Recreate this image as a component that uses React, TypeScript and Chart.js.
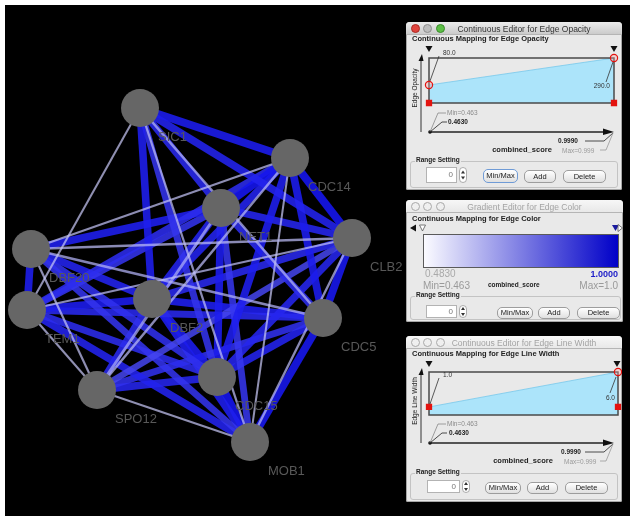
import React, { useEffect, useRef } from "react";
import { Chart, registerables } from "chart.js";
Chart.register(...registerables);

// ---------------- data ----------------
const nodeNames = ["SIC1", "CDC14", "NET1", "CLB2", "DBF20", "TEM1", "DBF2", "CDC5", "SPO12", "CDC15", "MOB1"];
const nodeX = [140, 290, 221, 352, 31, 27, 152, 323, 97, 217, 250];
const nodeY = [108, 158, 208, 238, 249, 310, 299, 318, 390, 377, 442];

const edgeSource = [
  "SIC1", "SIC1", "SIC1", "DBF20", "DBF20", "CDC14", "CDC14", "CLB2", "CLB2", "TEM1", "DBF20", "SPO12", "DBF20", "NET1",
  "SIC1", "SIC1", "SIC1", "SIC1", "SIC1",
  "CDC14", "CDC14", "CDC14", "CDC14", "CDC14", "CDC14",
  "NET1", "NET1", "NET1", "NET1", "NET1", "NET1", "NET1",
  "CLB2", "CLB2", "CLB2", "CLB2",
  "DBF20", "DBF20", "DBF20", "DBF20",
  "TEM1", "TEM1", "TEM1", "TEM1",
  "DBF2", "DBF2", "DBF2", "DBF2",
  "CDC5", "CDC5", "CDC5",
  "SPO12", "CDC15",
];
const edgeTarget = [
  "TEM1", "MOB1", "CDC5", "CLB2", "CDC14", "MOB1", "SPO12", "TEM1", "MOB1", "SPO12", "SPO12", "MOB1", "CDC5", "SPO12",
  "CDC14", "CLB2", "NET1", "DBF2", "CDC15",
  "NET1", "CLB2", "TEM1", "DBF2", "CDC5", "CDC15",
  "CLB2", "DBF20", "TEM1", "DBF2", "CDC5", "CDC15", "MOB1",
  "DBF2", "CDC5", "SPO12", "CDC15",
  "TEM1", "DBF2", "CDC15", "MOB1",
  "DBF2", "CDC5", "CDC15", "MOB1",
  "CDC5", "SPO12", "CDC15", "MOB1",
  "SPO12", "CDC15", "MOB1",
  "CDC15", "MOB1",
];
const edgeScore = [
  0.47, 0.49, 0.52, 0.5, 0.48, 0.463, 0.51, 0.49, 0.5, 0.47, 0.48, 0.47, 0.53, 0.55,
  0.97, 0.95, 0.93, 0.96, 0.9,
  0.99, 0.99, 0.92, 0.95, 0.97, 0.96,
  0.94, 0.96, 0.9, 0.95, 0.92, 0.97, 0.89,
  0.93, 0.98, 0.85, 0.94,
  0.96, 0.95, 0.91, 0.9,
  0.97, 0.93, 0.92, 0.95,
  0.96, 0.93, 0.97, 0.96,
  0.91, 0.95, 0.98,
  0.94, 0.99,
];

const scoreMin = 0.463;
const scoreMax = 0.999;
const opacityValues = [80, 290];
const widthValues = [1, 6];

// ---------------- helpers ----------------
const F = '"Liberation Sans", "DejaVu Sans", Arial, sans-serif';

function Txt(props: { x: number; y: number; s?: number; b?: boolean; c?: string; a?: "l" | "c" | "r"; rot?: boolean; children: any }) {
  const { x, y, s = 8, b = false, c = "#222", a = "l", rot = false } = props;
  const tx = a === "c" || rot ? "-50%" : a === "r" ? "-100%" : "0";
  return (
    <span
      style={{
        position: "absolute",
        left: x,
        top: y,
        fontSize: s,
        fontWeight: b ? 700 : 400,
        color: c,
        fontFamily: F,
        lineHeight: 1,
        whiteSpace: "nowrap",
        transform: `translate(${tx},-50%)` + (rot ? " rotate(-90deg)" : ""),
      }}
    >
      {props.children}
    </span>
  );
}

function Btn({ x, y, w, h, label, active }: { x: number; y: number; w: number; h: number; label: string; active?: boolean }) {
  return (
    <div
      style={{
        position: "absolute",
        left: x,
        top: y,
        width: w,
        height: h,
        boxSizing: "border-box",
        borderRadius: 5,
        border: active ? "1.5px solid #6f9bd6" : "1px solid #9d9d9d",
        background: "linear-gradient(#ffffff,#e0e0e0)",
        fontSize: 7.5,
        fontFamily: F,
        color: "#222",
        display: "flex",
        alignItems: "center",
        justifyContent: "center",
        lineHeight: 1,
      }}
    >
      {label}
    </div>
  );
}

function RangeBox({ x, y, w, h, ix, iy, iw, ih }: { x: number; y: number; w: number; h: number; ix: number; iy: number; iw: number; ih: number }) {
  return (
    <>
      <div style={{ position: "absolute", left: x, top: y, width: w, height: h, boxSizing: "border-box", border: "1px solid #c3c3c3", borderRadius: 3 }} />
      <span style={{ position: "absolute", left: x + 5, top: y - 4, fontSize: 6.5, fontWeight: 700, fontFamily: F, color: "#222", background: "#e9e9e9", padding: "0 1px", lineHeight: 1 }}>
        Range Setting
      </span>
      <div style={{ position: "absolute", left: ix, top: iy, width: iw, height: ih, boxSizing: "border-box", background: "#fff", border: "1px solid #b3b3b3", fontSize: 8, color: "#777", fontFamily: F, textAlign: "right", paddingRight: 3, lineHeight: `${ih - 2}px` }}>0</div>
      <svg style={{ position: "absolute", left: ix + iw + 2, top: iy }} width={8} height={ih}>
        <rect x={0.5} y={0.5} width={7} height={ih - 1} rx={3.5} fill="#fff" stroke="#999" strokeWidth={0.8} />
        <polygon points={`2,${ih / 2 - 1.5} 6,${ih / 2 - 1.5} 4,${ih / 2 - 4.5}`} fill="#333" />
        <polygon points={`2,${ih / 2 + 1.5} 6,${ih / 2 + 1.5} 4,${ih / 2 + 4.5}`} fill="#333" />
      </svg>
    </>
  );
}

function Panel({ x, y, w, h, title, active, children }: { x: number; y: number; w: number; h: number; title: string; active?: boolean; children: any }) {
  const lightColors = active ? ["#e0443d", "#bdbdbd", "#5cbf45"] : ["#efefef", "#efefef", "#efefef"];
  const lightBorders = active ? ["#a82a25", "#8e8e8e", "#3a8a2c"] : ["#a9a9a9", "#a9a9a9", "#a9a9a9"];
  return (
    <div style={{ position: "absolute", left: x, top: y, width: w, height: h, background: "#e9e9e9", borderRadius: "4px 4px 2px 2px", overflow: "hidden", fontFamily: F, boxShadow: "inset 0 0 0 1px #a6a6a6" }}>
      <div style={{ position: "absolute", left: 0, top: 0, width: w, height: 12, background: active ? "linear-gradient(#ececec,#cbcbcb)" : "linear-gradient(#f7f7f7,#e8e8e8)", borderBottom: "1px solid #b5b5b5" }} />
      {[9, 21, 34].map((cx, i) => (
        <div key={i} style={{ position: "absolute", left: cx - 4.5, top: 1.5, width: 9, height: 9, boxSizing: "border-box", borderRadius: "50%", background: lightColors[i], border: `1px solid ${lightBorders[i]}` }} />
      ))}
      <Txt x={w / 2 + 10} y={6.5} s={8.5} c={active ? "#333" : "#a3a3a3"} a="c">{title}</Txt>
      {children}
    </div>
  );
}

function MappingChart({ x, y, w, h, yMin, yMax, yVals, markers }: { x: number; y: number; w: number; h: number; yMin: number; yMax: number; yVals: number[]; markers: { x: number; y: number; st: string }[] }) {
  const ref = useRef<HTMLCanvasElement>(null);
  const pad = 6;
  useEffect(() => {
    const chart = new Chart(ref.current as HTMLCanvasElement, {
      type: "scatter",
      data: {
        datasets: [
          {
            data: markers.map((m) => ({ x: m.x, y: m.y })),
            pointStyle: markers.map((m) => m.st) as any,
            pointRadius: 3.6,
            backgroundColor: markers.map((m) => (m.st === "rect" ? "#e3130f" : "rgba(255,170,170,0.35)")),
            borderColor: "#e3130f",
            borderWidth: 1.2,
            clip: false as any,
          },
          {
            data: [
              { x: scoreMin, y: yVals[0] },
              { x: scoreMax, y: yVals[1] },
            ],
            showLine: true,
            fill: "start",
            backgroundColor: "rgb(172,228,250)",
            borderColor: "rgba(120,200,235,0.8)",
            borderWidth: 1,
            pointRadius: 0,
          },
        ],
      },
      options: {
        responsive: false,
        animation: false,
        events: [],
        layout: { padding: pad, autoPadding: false },
        plugins: { legend: { display: false }, tooltip: { enabled: false } },
        scales: {
          x: { type: "linear", min: scoreMin, max: scoreMax, display: false },
          y: { type: "linear", min: yMin, max: yMax, display: false },
        },
      } as any,
      plugins: [
        {
          id: "frame",
          afterDatasetDraw(c: any, args: any) {
            if (args.index !== 1) return;
            const { ctx, chartArea: a } = c;
            ctx.save();
            ctx.strokeStyle = "#4a4a4a";
            ctx.lineWidth = 1.5;
            ctx.strokeRect(a.left, a.top, a.right - a.left, a.bottom - a.top);
            ctx.restore();
          },
        },
      ],
    });
    return () => chart.destroy();
  }, []);
  return <canvas ref={ref} width={w + 2 * pad} height={h + 2 * pad} style={{ position: "absolute", left: x - pad, top: y - pad, width: w + 2 * pad, height: h + 2 * pad }} />;
}

function Tri({ x, y, fill = "#111" }: { x: number; y: number; fill?: string }) {
  return <polygon points={`${x - 3.5},${y - 3} ${x + 3.5},${y - 3} ${x},${y + 3}`} fill={fill} />;
}

// axes decorations shared by the two continuous editors
function Axes({ w, h, xAxisY, yTop, minLY, valLY, rightLabY }: { w: number; h: number; xAxisY: number; yTop: number; minLY: number; valLY: number; rightLabY: number }) {
  return (
    <svg style={{ position: "absolute", left: 0, top: 0 }} width={w} height={h}>
      <line x1={15} y1={yTop + 3} x2={15} y2={xAxisY} stroke="#333" strokeWidth={1} />
      <polygon points={`${12.5},${yTop + 6} ${17.5},${yTop + 6} ${16},${yTop - 1}`} fill="#111" />
      <line x1={24} y1={xAxisY} x2={w - 14} y2={xAxisY} stroke="#222" strokeWidth={1.6} />
      <polygon points={`${w - 19},${xAxisY - 3.5} ${w - 8},${xAxisY} ${w - 19},${xAxisY + 3}`} fill="#111" />
      <circle cx={24} cy={xAxisY} r={1.8} fill="#111" />
      <polyline points={`24,${xAxisY} 32,${minLY} 40,${minLY}`} fill="none" stroke="#888" strokeWidth={0.8} />
      <polyline points={`24,${xAxisY} 36,${valLY} 41,${valLY}`} fill="none" stroke="#222" strokeWidth={0.8} />
      <polyline points={`${w - 9},${xAxisY + 1} ${w - 18},${rightLabY - 9} ${w - 37},${rightLabY - 9}`} fill="none" stroke="#222" strokeWidth={0.8} />
      <polyline points={`${w - 9},${xAxisY + 1} ${w - 16},${rightLabY} ${w - 22},${rightLabY}`} fill="none" stroke="#999" strokeWidth={0.8} />
    </svg>
  );
}

// ---------------- network chart ----------------
function NetworkChart() {
  const ref = useRef<HTMLCanvasElement>(null);
  useEffect(() => {
    const idx = (n: string) => nodeNames.indexOf(n);
    const edgeSets = edgeSource.map((s, i) => {
      const a = idx(s);
      const b = idx(edgeTarget[i]);
      const t = Math.max(0, Math.min(1, (edgeScore[i] - scoreMin) / (scoreMax - scoreMin)));
      const r = Math.round(200 - 182 * t);
      const bl = Math.round(245 - 8 * t);
      const al = 0.72 + 0.18 * t;
      return {
        data: [
          { x: nodeX[a], y: nodeY[a] },
          { x: nodeX[b], y: nodeY[b] },
        ],
        showLine: true,
        borderColor: `rgba(${r},${r},${bl},${al})`,
        borderWidth: 2 + 6 * t,
        borderCapStyle: "butt",
        pointRadius: 0,
        order: t < 0.5 ? 1 : 2,
      };
    });
    const bg = {
      id: "bg",
      beforeDraw(c: any) {
        const ctx = c.ctx;
        ctx.save();
        ctx.fillStyle = "#ffffff";
        ctx.fillRect(0, 0, c.width, c.height);
        ctx.fillStyle = "#000000";
        ctx.fillRect(5, 5, 625, 511);
        ctx.restore();
      },
    };
    const labels = {
      id: "labels",
      afterDatasetsDraw(c: any) {
        const ctx = c.ctx;
        const xs = c.scales.x;
        const ys = c.scales.y;
        ctx.save();
        ctx.font = '13px "Liberation Sans", Arial, sans-serif';
        ctx.fillStyle = "rgb(88,88,88)";
        ctx.textBaseline = "middle";
        ctx.textAlign = "left";
        nodeNames.forEach((n, i) => {
          ctx.fillText(n, xs.getPixelForValue(nodeX[i]) + 18, ys.getPixelForValue(nodeY[i]) + 29);
        });
        ctx.restore();
      },
    };
    const chart = new Chart(ref.current as HTMLCanvasElement, {
      type: "scatter",
      data: {
        datasets: [
          {
            data: nodeNames.map((_, i) => ({ x: nodeX[i], y: nodeY[i] })),
            pointRadius: 19,
            pointHoverRadius: 19,
            backgroundColor: "rgb(102,102,102)",
            borderWidth: 0,
            order: 0,
          },
          ...(edgeSets as any[]),
        ],
      },
      options: {
        responsive: false,
        animation: false,
        events: [],
        devicePixelRatio: 1,
        layout: { padding: 0, autoPadding: false },
        plugins: { legend: { display: false }, tooltip: { enabled: false } },
        scales: {
          x: { type: "linear", min: 0, max: 634, display: false },
          y: { type: "linear", min: 0, max: 520, reverse: true, display: false },
        },
      } as any,
      plugins: [bg, labels],
    });
    return () => chart.destroy();
  }, []);
  return <canvas ref={ref} width={634} height={520} style={{ position: "absolute", left: 0, top: 0, width: 634, height: 520 }} />;
}

export default function App() {
  return (
    <div style={{ position: "absolute", left: 0, top: 0, width: 634, height: 520, overflow: "hidden", background: "#fff" }}>
      <NetworkChart />

      {/* Edge Opacity editor */}
      <Panel x={406} y={22} w={216} h={168} title="Continuous Editor for Edge Opacity" active>
        <Txt x={6} y={17} s={7.5} b>Continuous Mapping for Edge Opacity</Txt>
        <MappingChart x={23} y={36} w={185} h={45} yMin={-60} yMax={290} yVals={opacityValues}
          markers={[{ x: scoreMin, y: 80, st: "circle" }, { x: scoreMax, y: 290, st: "circle" }, { x: scoreMin, y: -60, st: "rect" }, { x: scoreMax, y: -60, st: "rect" }]} />
        <svg style={{ position: "absolute", left: 0, top: 0 }} width={216} height={168}>
          <Tri x={23} y={27} />
          <Tri x={208} y={27} />
          <line x1={24} y1={59} x2={33} y2={34} stroke="#333" strokeWidth={0.8} />
          <line x1={207} y1={40} x2={200} y2={60} stroke="#333" strokeWidth={0.8} />
        </svg>
        <Axes w={216} h={168} xAxisY={110} yTop={33} minLY={91} valLY={100} rightLabY={128} />
        <Txt x={37} y={31} s={6.5} c="#333">80.0</Txt>
        <Txt x={204} y={64} s={6.5} c="#333" a="r">290.0</Txt>
        <Txt x={9} y={66} s={6.5} c="#222" rot>Edge Opacity</Txt>
        <Txt x={41} y={91} s={6.5} c="#8a8a8a">Min=0.463</Txt>
        <Txt x={42} y={100} s={6.5} b>0.4630</Txt>
        <Txt x={152} y={119} s={6.5} b>0.9990</Txt>
        <Txt x={116} y={128} s={7.5} b a="c">combined_score</Txt>
        <Txt x={156} y={129} s={6.5} c="#9a9a9a">Max=0.999</Txt>
        <RangeBox x={4} y={139} w={208} h={27} ix={20} iy={145} iw={31} ih={16} />
        <Btn x={77} y={147} w={35} h={14} label="Min/Max" active />
        <Btn x={118} y={148} w={32} h={13} label="Add" />
        <Btn x={157} y={148} w={43} h={13} label="Delete" />
      </Panel>

      {/* Edge Color editor */}
      <Panel x={406} y={200} w={217} h={122} title="Gradient Editor for Edge Color">
        <Txt x={6} y={19} s={7.5} b>Continuous Mapping for Edge Color</Txt>
        <svg style={{ position: "absolute", left: 0, top: 0 }} width={217} height={122}>
          <polygon points="4,28 10,24.5 10,31.5" fill="#111" />
          <polygon points="13.5,25 19.5,25 16.5,31" fill="#fff" stroke="#555" strokeWidth={0.8} />
          <polygon points="206,25 213,25 209.5,31" fill="#1b1b9e" />
          <polygon points="212,24.5 216.5,28 212,31.5" fill="#fff" stroke="#555" strokeWidth={0.8} />
        </svg>
        <div style={{ position: "absolute", left: 17, top: 34, width: 196, height: 34, boxSizing: "border-box", border: "1px solid #5a5a5a", background: "linear-gradient(to right, #fbfbff, #0000c8)" }} />
        <Txt x={19} y={74} s={10} c="#a9a9a9">0.4830</Txt>
        <Txt x={212} y={74} s={9} b c="#1c1cc8" a="r">1.0000</Txt>
        <Txt x={17} y={86} s={10} c="#9a9a9a">Min=0.463</Txt>
        <Txt x={82} y={85} s={6.5} b>combined_score</Txt>
        <Txt x={212} y={86} s={10} c="#9a9a9a" a="r">Max=1.0</Txt>
        <RangeBox x={4} y={96} w={211} h={24} ix={20} iy={105} iw={31} ih={13} />
        <Btn x={91} y={107} w={36} h={12} label="Min/Max" />
        <Btn x={132} y={107} w={32} h={12} label="Add" />
        <Btn x={171} y={107} w={43} h={12} label="Delete" />
      </Panel>

      {/* Edge Line Width editor */}
      <Panel x={406} y={336} w={216} h={166} title="Continuous Editor for Edge Line Width">
        <Txt x={6} y={18} s={7.5} b>Continuous Mapping for Edge Line Width</Txt>
        <MappingChart x={23} y={36} w={189} h={43} yMin={-0.15} yMax={6} yVals={widthValues}
          markers={[{ x: scoreMin, y: 1, st: "rect" }, { x: scoreMax, y: 6, st: "circle" }, { x: scoreMax, y: 1, st: "rect" }]} />
        <svg style={{ position: "absolute", left: 0, top: 0 }} width={216} height={166}>
          <Tri x={23} y={28} />
          <Tri x={211} y={28} />
          <line x1={24} y1={68} x2={33} y2={42} stroke="#333" strokeWidth={0.8} />
          <line x1={210} y1={41} x2={204} y2={57} stroke="#333" strokeWidth={0.8} />
        </svg>
        <Axes w={216} h={166} xAxisY={107} yTop={33} minLY={88} valLY={97} rightLabY={125} />
        <Txt x={37} y={39} s={6.5} c="#333">1.0</Txt>
        <Txt x={209} y={62} s={6.5} c="#333" a="r">6.0</Txt>
        <Txt x={9} y={65} s={6.5} c="#222" rot>Edge Line Width</Txt>
        <Txt x={41} y={88} s={6.5} c="#8a8a8a">Min=0.463</Txt>
        <Txt x={43} y={97} s={6.5} b>0.4630</Txt>
        <Txt x={155} y={116} s={6.5} b>0.9990</Txt>
        <Txt x={117} y={125} s={7.5} b a="c">combined_score</Txt>
        <Txt x={158} y={126} s={6.5} c="#9a9a9a">Max=0.999</Txt>
        <RangeBox x={4} y={137} w={208} h={27} ix={21} iy={144} iw={33} ih={13} />
        <Btn x={79} y={146} w={36} h={12} label="Min/Max" />
        <Btn x={121} y={146} w={31} h={12} label="Add" />
        <Btn x={159} y={146} w={43} h={12} label="Delete" />
      </Panel>
    </div>
  );
}
